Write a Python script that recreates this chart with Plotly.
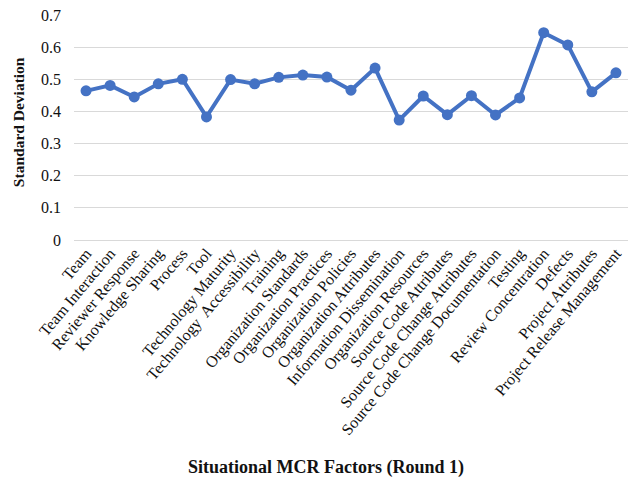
import plotly.graph_objects as go

categories = ["Team", "Team Interaction", "Reviewer Response", "Knowledge Sharing", "Process", "Tool",
              "Technology Maturity", "Technology  Accessibility", "Training", "Organization Standards",
              "Organization Practices", "Organization Policies", "Organization Attributes",
              "Information Dissemination", "Organization Resources", "Source Code Attributes",
              "Source Code Change Attributes", "Source Code Change Documentation", "Testing",
              "Review Concentration", "Defects", "Project Attributes", "Project Release Management"]
values = [0.464, 0.481, 0.445, 0.486, 0.500, 0.383, 0.499, 0.486, 0.506, 0.513, 0.507, 0.466,
          0.535, 0.373, 0.448, 0.390, 0.449, 0.389, 0.442, 0.645, 0.607, 0.461, 0.520]
y_ticks = [0, 0.1, 0.2, 0.3, 0.4, 0.5, 0.6, 0.7]

font = "Liberation Serif, Times New Roman, serif"

fig = go.Figure(go.Scatter(
    x=list(range(len(categories))), y=values, mode="lines+markers",
    line=dict(color="#4472C4", width=4),
    marker=dict(color="#4472C4", size=11),
    cliponaxis=False,
))

fig.update_layout(
    width=628, height=481,
    margin=dict(l=74, r=0, t=15, b=241),
    paper_bgcolor="white", plot_bgcolor="white",
    showlegend=False,
    font=dict(family=font, size=16, color="#111"),
    xaxis=dict(
        tickmode="array", tickvals=list(range(len(categories))), ticktext=categories,
        tickangle=-50, range=[-0.5, len(categories) - 0.5],
        showgrid=False, zeroline=False, showline=False, ticks="", automargin=False,
        tickfont=dict(family=font, size=16, color="#111"),
    ),
    yaxis=dict(
        range=[0, 0.7], tickvals=y_ticks, ticktext=[("%g" % v) for v in y_ticks],
        showgrid=True, gridcolor="#d9d9d9", gridwidth=1,
        zeroline=True, zerolinecolor="#d9d9d9", zerolinewidth=1,
        showline=False, ticks="", ticklabelstandoff=12, automargin=False,
        tickfont=dict(family=font, size=16, color="#111"),
    ),
    annotations=[
        dict(text="<b>Situational MCR Factors (Round 1)</b>", xref="paper", yref="paper",
             x=0.455, y=-1.009, xanchor="center", yanchor="middle", showarrow=False,
             font=dict(family=font, size=18, color="#111")),
        dict(text="<b>Standard Deviation</b>", xref="paper", yref="paper",
             x=-0.101, y=0.524, xanchor="center", yanchor="middle", textangle=-90, showarrow=False,
             font=dict(family=font, size=15.5, color="#111")),
    ],
)

fig.write_html("out.html", config={"displayModeBar": False},
               post_script="document.body.style.margin='0';document.body.style.overflow='hidden';")
